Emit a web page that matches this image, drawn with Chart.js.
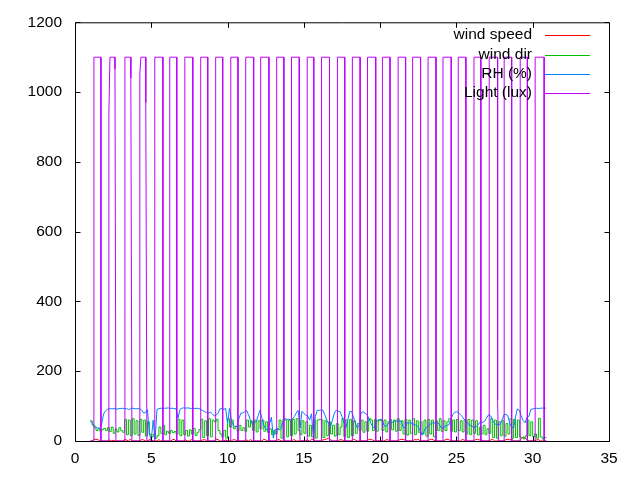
<!DOCTYPE html>
<html lang="en">
<head>
  <meta charset="UTF-8" />
  <title>Weather station log</title>
  <script src="https://cdn.jsdelivr.net/npm/chart.js"></script>
  <style>
    html, body { margin: 0; padding: 0; background: #fff; }
    canvas { display: block; }
  </style>
</head>
<body>
  <canvas id="weatherChart" width="640" height="480"></canvas>
  <script>
    // readings every 3 hours, from day 1.0 to day 30.875
    const sampleStart = 1.0;
    const sampleStep = 0.125;

    const windSpeed = [
      0,0,4,5,4,0,0,0,  0,0,3,0,2,0,0,0,  0,0,4,3,0,5,0,0,  0,0,0,4,3,0,0,4,
      3,0,0,0,4,0,0,0,  0,0,0,3,5,0,0,0,  0,0,3,0,0,4,0,0,  0,0,0,3,4,0,0,0,
      0,0,5,4,0,0,0,3,  0,0,0,4,3,0,0,0,  0,0,3,0,4,0,0,0,  0,0,0,5,3,0,0,0,
      0,0,3,4,0,0,0,0,  0,0,2,4,0,0,0,0,  0,0,3,0,5,4,0,0,  0,0,3,4,6,8,4,0,
      0,0,0,4,3,0,0,0,  0,0,5,3,0,0,0,0,  0,0,4,5,3,0,0,0,  0,0,0,3,4,0,0,0,
      0,0,3,5,4,3,0,0,  0,0,4,3,5,0,0,0,  0,0,4,5,3,0,0,0,  0,0,3,5,4,0,0,0,
      0,0,0,4,3,0,0,0,  0,0,4,5,3,4,0,0,  0,0,3,5,0,0,0,0,  0,0,4,5,3,5,0,0,
      0,0,5,12,8,4,0,0, 0,0,3,4,0,0,0,0
    ];

    const windDir = [
      58,45,38,30,35,28,33,36,  30,38,27,40,22,34,26,38,  30,25,62,18,60,15,64,20,
      58,16,62,25,60,14,55,20,  12,20,8,15,40,22,45,18,   28,22,30,24,27,20,62,15,
      60,18,30,14,32,20,36,16,  25,33,62,10,58,15,64,12,  60,55,62,30,20,12,30,8,
      64,40,60,35,42,28,45,30,  38,28,60,40,58,30,60,26,  58,35,60,28,55,24,35,18,
      30,20,36,60,8,62,60,12,   60,15,62,20,64,30,18,58,  22,55,14,45,12,60,8,60,
      62,60,10,58,15,55,20,45,  14,50,18,40,64,12,60,10,  62,15,58,22,50,30,60,25,
      55,28,64,60,30,62,28,60,  58,30,60,26,55,62,32,60,  28,64,30,58,20,62,17,60,
      22,64,18,58,25,55,20,60,  14,62,20,60,12,58,30,64,  28,58,30,55,64,28,60,26,
      62,30,58,26,60,20,62,18,  60,22,58,17,40,20,45,18,  35,22,64,10,60,8,55,15,
      58,14,50,20,64,8,62,10,   60,12,10,6,14,60,15,55,   12,20,8,65,12,6,10,8
    ];

    const relHumidity = [
      56,52,45,40,37,36,50,78,  86,91,92,93,92,93,91,93,  93,94,92,93,90,92,94,93,
      92,93,92,88,80,82,90,20,  3,60,5,90,93,94,93,94,    94,95,93,94,93,92,65,90,
      94,95,94,95,94,93,94,93,  94,93,90,87,84,82,80,83,  78,72,74,80,92,93,91,93,
      50,93,60,45,41,42,65,80,  80,84,87,75,60,47,52,55,  72,88,65,45,35,31,50,68,
      8,34,33,32,36,55,65,62,   62,61,63,70,80,88,37,85,  80,74,72,60,78,8,70,88,
      88,89,88,75,60,50,41,60,  80,88,86,84,70,52,38,60,  84,85,70,50,38,45,80,84,
      80,76,66,52,42,37,55,60,  62,62,45,41,48,52,52,55,  58,57,58,56,40,37,52,52,
      52,50,46,45,40,30,17,28,  37,42,46,52,52,51,53,48,  38,37,42,45,46,60,75,82,
      84,82,76,70,62,58,50,46,  42,40,40,44,52,52,54,58,  68,76,72,58,50,47,48,48,
      62,76,76,72,50,40,37,70,  92,88,72,58,52,68,70,90,  92,93,94,93,94,94,95,94
    ];

    // light sensor: corner points of each daylight pulse
    const lightX = [
      1.00,
      1.24, 1.24, 1.70, 1.70,
      2.22, 2.22, 2.29, 2.62, 2.62, 2.68,
      3.27, 3.27, 3.66, 3.66, 3.73,
      4.25, 4.25, 4.32, 4.64, 4.64, 4.71,
      5.23, 5.23, 5.76, 5.76,
      6.21, 6.21, 6.67, 6.67,
      7.20, 7.20, 7.72, 7.72,
      8.24, 8.24, 8.70, 8.70,
      9.22, 9.22, 9.68, 9.68,
      10.21, 10.21, 10.68, 10.68,
      11.19, 11.19, 11.71, 11.71,
      12.17, 12.17, 12.71, 12.71,
      13.22, 13.22, 13.69, 13.69,
      14.19, 14.19, 14.70, 14.70, 14.75,
      15.22, 15.22, 15.65, 15.65,
      16.16, 16.16, 16.68, 16.68,
      17.20, 17.20, 17.68, 17.68,
      18.18, 18.18, 18.69, 18.69,
      19.17, 19.17, 19.71, 19.71,
      20.15, 20.15, 20.65, 20.65,
      21.18, 21.18, 21.67, 21.67,
      22.13, 22.13, 22.65, 22.65,
      23.14, 23.14, 23.66, 23.66,
      24.12, 24.12, 24.66, 24.66,
      25.12, 25.12, 25.62, 25.62,
      26.15, 26.15, 26.60, 26.60,
      27.15, 27.15, 27.70, 27.70, 27.75,
      28.13, 28.13, 28.62, 28.62,
      29.18, 29.18, 29.65, 29.65,
      30.16, 30.16, 30.75, 30.75,
      30.90
    ];
    const lightY = [
      0,
      0, 1100, 1100, 0,
      0, 936, 1100, 1100, 1066, 0,
      0, 1100, 1100, 1040, 0,
      0, 1052, 1100, 1100, 970, 0,
      0, 1100, 1100, 0,
      0, 1100, 1100, 0,
      0, 1100, 1100, 0,
      0, 1100, 1100, 0,
      0, 1100, 1100, 0,
      0, 1100, 1100, 0,
      0, 1100, 1100, 0,
      0, 1100, 1100, 0,
      0, 1100, 1100, 0,
      0, 1100, 1100, 117, 0,
      0, 1100, 1100, 0,
      0, 1100, 1100, 0,
      0, 1100, 1100, 0,
      0, 1100, 1100, 0,
      0, 1100, 1100, 0,
      0, 1100, 1100, 0,
      0, 1100, 1100, 0,
      0, 1100, 1100, 0,
      0, 1100, 1100, 0,
      0, 1100, 1100, 0,
      0, 1100, 1100, 0,
      0, 1100, 1100, 0,
      0, 1100, 1100, 117, 0,
      0, 1100, 1100, 0,
      0, 1100, 1100, 0,
      0, 1100, 1100, 0,
      0
    ];

    const xTicks = [0, 5, 10, 15, 20, 25, 30, 35];
    const yTicks = [0, 200, 400, 600, 800, 1000, 1200];

    function sampled(values) {
      return values.map((v, i) => ({ x: sampleStart + i * sampleStep, y: v }));
    }

    const lightPoints = lightX.map((x, i) => ({ x: x, y: lightY[i] }));

    Chart.defaults.font.family = '"Liberation Sans", Arial, sans-serif';
    Chart.defaults.font.size = 15.5;
    Chart.defaults.color = '#000';

    // gnuplot-like frame with inward ticks on all four sides, plus the key
    const gnuFrame = {
      id: 'gnuFrame',
      afterDatasetsDraw(chart) {
        const { ctx, chartArea: a, scales } = chart;
        const tic = 5;
        ctx.save();
        ctx.strokeStyle = '#000';
        ctx.lineWidth = 1;
        ctx.beginPath();
        ctx.rect(a.left + 0.5, a.top + 0.5, a.right - a.left, a.bottom - a.top);
        scales.x.ticks.forEach(t => {
          const px = Math.round(scales.x.getPixelForValue(t.value)) + 0.5;
          ctx.moveTo(px, a.bottom + 0.5); ctx.lineTo(px, a.bottom + 0.5 - tic);
          ctx.moveTo(px, a.top + 0.5); ctx.lineTo(px, a.top + 0.5 + tic);
        });
        scales.y.ticks.forEach(t => {
          const py = Math.round(scales.y.getPixelForValue(t.value)) + 0.5;
          ctx.moveTo(a.left + 0.5, py); ctx.lineTo(a.left + 0.5 + tic, py);
          ctx.moveTo(a.right + 0.5, py); ctx.lineTo(a.right + 0.5 - tic, py);
        });
        ctx.stroke();

        // key, top right inside the plot
        ctx.font = '15.5px "Liberation Sans", Arial, sans-serif';
        ctx.textAlign = 'right';
        ctx.textBaseline = 'middle';
        const lineEnd = a.right - 19;
        const lineStart = lineEnd - 45;
        chart.data.datasets.forEach((ds, i) => {
          const row = Math.round(a.top + 13 + i * 19.2) + 0.5;
          ctx.fillStyle = '#000';
          ctx.fillText(ds.label, lineStart - 13, row - 1);
          ctx.strokeStyle = ds.borderColor;
          ctx.lineWidth = 1;
          ctx.beginPath();
          ctx.moveTo(lineStart, row);
          ctx.lineTo(lineEnd, row);
          ctx.stroke();
        });
        ctx.restore();
      }
    };

    new Chart(document.getElementById('weatherChart'), {
      type: 'line',
      data: {
        datasets: [
          { label: 'wind speed', data: sampled(windSpeed), borderColor: '#ff0000', order: 3 },
          { label: 'wind dir', data: sampled(windDir), borderColor: '#00c000', stepped: true, order: 2 },
          { label: 'RH (%)', data: sampled(relHumidity), borderColor: '#0080ff', order: 1 },
          { label: 'Light (lux)', data: lightPoints, borderColor: '#c000ff', order: 0 }
        ]
      },
      options: {
        responsive: false,
        animation: false,
        events: [],
        layout: { padding: { top: 20, right: 31, left: 0, bottom: 0 } },
        elements: {
          line: { borderWidth: 1, tension: 0, fill: false },
          point: { radius: 0 }
        },
        plugins: {
          legend: { display: false },
          tooltip: { enabled: false }
        },
        scales: {
          x: {
            type: 'linear',
            min: 0,
            max: 35,
            afterBuildTicks: s => { s.ticks = xTicks.map(v => ({ value: v })); },
            afterFit: s => { s.height = 39; },
            grid: { display: false, drawTicks: false },
            border: { display: false },
            ticks: { padding: 8, maxRotation: 0, color: '#000', callback: v => String(v) }
          },
          y: {
            type: 'linear',
            min: 0,
            max: 1200,
            afterBuildTicks: s => { s.ticks = yTicks.map(v => ({ value: v })); },
            afterFit: s => { s.width = 75; },
            grid: { display: false, drawTicks: false },
            border: { display: false },
            ticks: { padding: 13, color: '#000', callback: v => String(v) }
          }
        }
      },
      plugins: [gnuFrame]
    });
  </script>
</body>
</html>
